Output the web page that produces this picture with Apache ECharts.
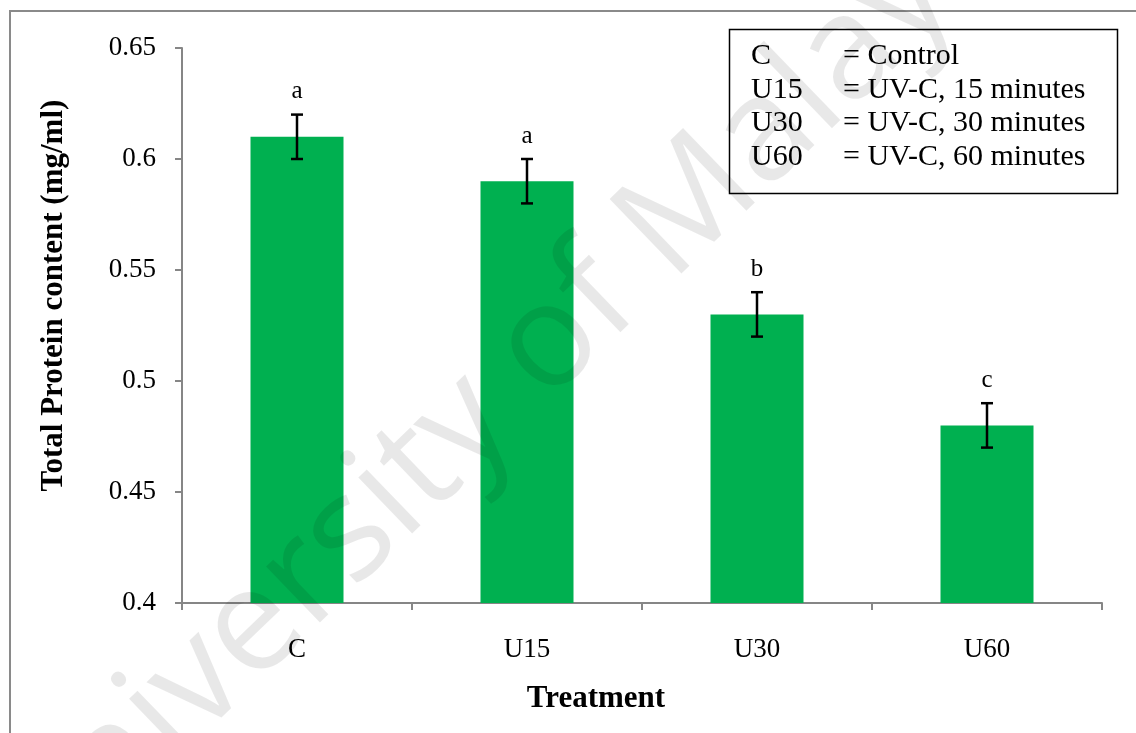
<!DOCTYPE html>
<html>
<head>
<meta charset="utf-8">
<script src="https://cdn.jsdelivr.net/npm/echarts@6/dist/echarts.min.js"></script>
<style>
html,body{margin:0;padding:0;background:#fff;}
#chart{width:1136px;height:733px;}
</style>
</head>
<body>
<div id="chart"></div>
<script>
var categories = ['C', 'U15', 'U30', 'U60'];
var proteinValues = [0.61, 0.59, 0.53, 0.48];
var errorValues = [0.01, 0.01, 0.01, 0.01];
var letters = ['a', 'a', 'b', 'c'];
var legendCodes = ['C', 'U15', 'U30', 'U60'];
var legendDescs = ['= Control', '= UV-C, 15 minutes', '= UV-C, 30 minutes', '= UV-C, 60 minutes'];
var yTicks = { min: 0.4, max: 0.65, interval: 0.05 };
var watermarkText = 'University of Malaya';

var serif = '"Liberation Serif", "Times New Roman", serif';
var chart = echarts.init(document.getElementById('chart'));

var legendChildren = [{
  type: 'rect',
  shape: { x: 729.5, y: 29.5, width: 388, height: 164 },
  style: { fill: '#fff', stroke: '#000', lineWidth: 1.5 }
}];
legendCodes.forEach(function (c, i) {
  legendChildren.push({
    type: 'text', x: 751, y: 56 + i * 33.8,
    style: { text: c, font: '30px ' + serif, fill: '#000', verticalAlign: 'middle' }
  });
  legendChildren.push({
    type: 'text', x: 843, y: 56 + i * 33.8,
    style: { text: legendDescs[i], font: '30px ' + serif, fill: '#000', verticalAlign: 'middle' }
  });
});

var option = {
  backgroundColor: '#fff',
  animation: false,
  grid: { left: 182, top: 48, width: 920, height: 555, containLabel: false },
  xAxis: {
    type: 'category',
    data: categories,
    boundaryGap: true,
    name: 'Treatment',
    nameLocation: 'middle',
    nameGap: 80,
    nameTextStyle: { fontFamily: serif, fontWeight: 'bold', fontSize: 31, color: '#000', padding: [0, 92, 0, 0] },
    axisLine: { lineStyle: { color: '#868686', width: 2 } },
    axisTick: { show: true, length: 7, inside: false, alignWithLabel: false, lineStyle: { color: '#868686', width: 2 } },
    axisLabel: { fontFamily: serif, fontSize: 27, color: '#000', margin: 33 },
    splitLine: { show: false }
  },
  yAxis: {
    type: 'value',
    min: yTicks.min, max: yTicks.max, interval: yTicks.interval,
    name: 'Total Protein content (mg/ml)',
    nameLocation: 'middle',
    nameGap: 113,
    nameRotate: 90,
    nameTextStyle: { fontFamily: serif, fontWeight: 'bold', fontSize: 31, color: '#000', padding: [0, 0, 0, 60] },
    axisLine: { show: true, lineStyle: { color: '#868686', width: 2 } },
    axisTick: { show: true, length: 7, inside: false, lineStyle: { color: '#868686', width: 2 } },
    axisLabel: { fontFamily: serif, fontSize: 27, color: '#000', margin: 26 },
    splitLine: { show: false }
  },
  series: [
    {
      type: 'bar',
      data: proteinValues,
      barWidth: 93,
      itemStyle: { color: '#00B050' },
      z: 2
    },
    {
      type: 'custom',
      data: proteinValues.map(function (v, i) { return [i, v, errorValues[i]]; }),
      z: 5,
      renderItem: function (params, api) {
        var i = api.value(0), v = api.value(1), e = api.value(2);
        var top = api.coord([i, v + e]);
        var bot = api.coord([i, v - e]);
        var hw = 6;
        return {
          type: 'group',
          children: [
            { type: 'line', shape: { x1: top[0], y1: top[1], x2: bot[0], y2: bot[1] }, style: { stroke: '#000', lineWidth: 2.5 } },
            { type: 'line', shape: { x1: top[0] - hw, y1: top[1], x2: top[0] + hw, y2: top[1] }, style: { stroke: '#000', lineWidth: 2.5 } },
            { type: 'line', shape: { x1: bot[0] - hw, y1: bot[1], x2: bot[0] + hw, y2: bot[1] }, style: { stroke: '#000', lineWidth: 2.5 } },
            { type: 'text', x: top[0], y: top[1] - 23, style: { text: letters[params.dataIndex], font: '25px ' + serif, fill: '#000', align: 'center', verticalAlign: 'middle' } }
          ]
        };
      }
    }
  ],
  graphic: [
    {
      type: 'rect', z: 0, silent: true,
      shape: { x: 10, y: 11, width: 1300, height: 900 },
      style: { fill: 'none', stroke: '#8a8a8a', lineWidth: 2 }
    },
    {
      type: 'group', z: 10, children: legendChildren
    },
    {
      type: 'text', z: 20, silent: true,
      x: 497, y: 394, rotation: 44 * Math.PI / 180,
      style: {
        text: watermarkText,
        font: '145px "Open Sans", "Liberation Sans", sans-serif',
        fill: 'rgba(0,0,0,0.09)',
        align: 'center', verticalAlign: 'middle'
      }
    }
  ]
};
chart.setOption(option);
</script>
</body>
</html>
